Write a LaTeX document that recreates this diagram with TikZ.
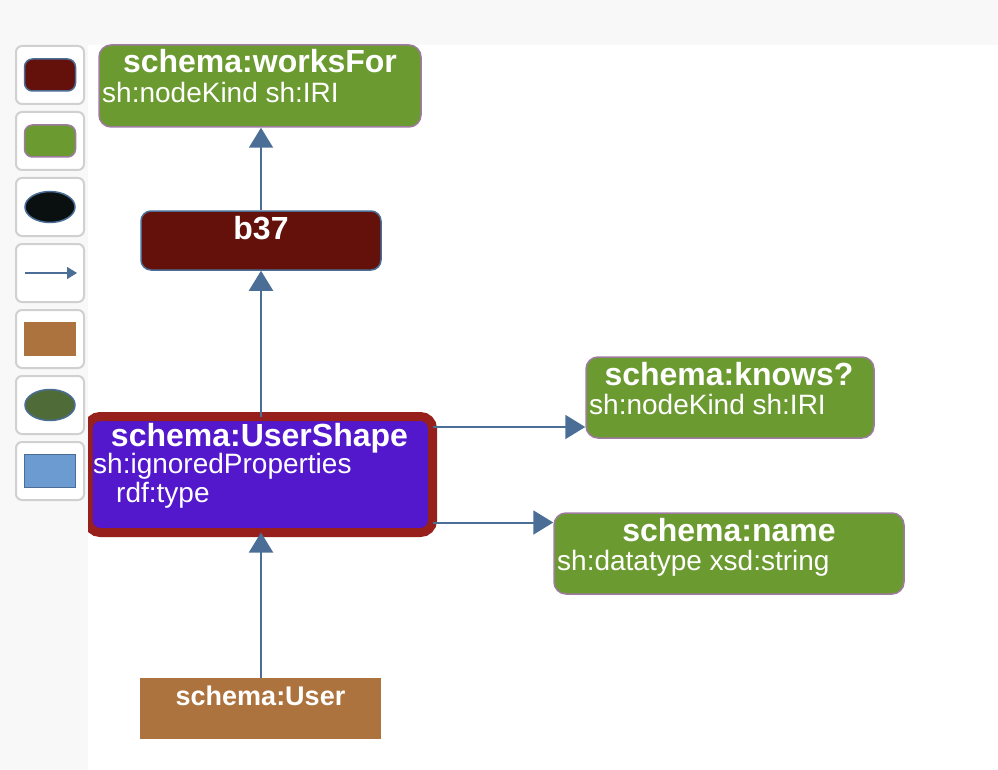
\documentclass[tikz,border=0pt]{standalone}
\usepackage{fontspec}
\setmainfont{Liberation Sans}
\usetikzlibrary{arrows.meta,shapes.geometric}
\definecolor{canvasgray}{HTML}{F8F8F8}
\definecolor{propgreen}{HTML}{6B9A30}
\definecolor{propborder}{HTML}{9E7BA0}
\definecolor{bnodered}{HTML}{64110B}
\definecolor{edgeblue}{HTML}{4A6E96}
\definecolor{shapered}{HTML}{971F1C}
\definecolor{shapeviolet}{HTML}{5317CC}
\definecolor{classbrown}{HTML}{AD733E}
\definecolor{litgreen}{HTML}{4F6B38}
\definecolor{litblue}{HTML}{6B9BD0}
\definecolor{legline}{HTML}{D0D0D0}
\definecolor{iriblack}{HTML}{0A0F10}

\begin{document}
\begin{tikzpicture}[x=1pt,y=-1pt,
		box/.style={rectangle,inner sep=0pt},
		prop/.style={box,rounded corners=12pt,fill=propgreen,draw=propborder,line width=1.5pt},
		ttl/.style={anchor=base,text=white,inner sep=0pt,font=\fontsize{32}{32}\selectfont\bfseries},
		txt/.style={anchor=base west,text=white,inner sep=0pt,font=\fontsize{28}{29}\selectfont},
		conn/.style={draw=edgeblue,line width=2pt,-{Triangle[length=20pt,width=24pt]}},
		legbox/.style={box,minimum width=68pt,minimum height=58pt,rounded corners=6pt,fill=white,draw=legline,line width=2pt}]
		\useasboundingbox (0,0) rectangle (998,770);
		\fill[canvasgray] (0,0) rectangle (998,45);

		\node[prop,minimum width=322pt,minimum height=82pt] (worksfor) at (260,86) {};
		\node[ttl] (worksfor-t) at (260,73) {schema:worksFor};
		\node[txt] (worksfor-l) at (102,103) {sh:nodeKind sh:IRI};

		\node[box,rounded corners=10pt,fill=bnodered,draw=edgeblue,line width=1.5pt,minimum width=240pt,minimum height=59pt] (b37) at (261,240.5) {};
		\node[ttl] (b37-t) at (261,239) {b37};

		\node[box,rounded corners=12pt,fill=shapeviolet,draw=shapered,line width=9pt,outer sep=0pt,minimum width=344.5pt,minimum height=116pt] (usershape) at (260.25,474.5) {};
		\node[ttl] (usershape-t) at (259.5,446) {schema:UserShape};
		\node[txt] (usershape-l1) at (93,473) {sh:ignoredProperties};
		\node[txt] (usershape-l2) at (116,502) {rdf:type};

		\node[prop,minimum width=288pt,minimum height=81pt] (knows) at (730,397.5) {};
		\node[ttl] (knows-t) at (729,385) {schema:knows?};
		\node[txt] (knows-l) at (589,414) {sh:nodeKind sh:IRI};

		\node[prop,minimum width=350pt,minimum height=81pt] (name) at (729,553.5) {};
		\node[ttl] (name-t) at (729,541) {schema:name};
		\node[txt] (name-l) at (557,570) {sh:datatype xsd:string};

		\node[box,fill=classbrown,minimum width=241pt,minimum height=61pt] (user) at (260.5,708.5) {};
		\node[ttl,font=\fontsize{27}{27}\selectfont\bfseries] (user-t) at (260.5,705) {schema:User};

		\coordinate (k0) at ([yshift=-10.5pt]usershape.north east);
		\coordinate (n0) at ([yshift=10pt]usershape.south east);
		\draw[conn] (b37.north) -- (b37.north |- worksfor.south);
		\draw[conn] (b37.south |- usershape.north) -- (b37.south);
		\draw[conn] (b37.south |- user.north) -- (b37.south |- usershape.south);
		\draw[conn] (k0) -- (k0 -| knows.west);
		\draw[conn] (n0) -- (n0 -| name.west);

		% legend
		\fill[canvasgray] (0,45) rectangle (88,770);
		\node[legbox] (leg1) at (50,75) {};
		\node[box,rounded corners=8pt,fill=bnodered,draw=edgeblue,line width=1.5pt,minimum width=51pt,minimum height=32pt] (leg1-s) at (leg1) {};
		\node[legbox] (leg2) at (50,141) {};
		\node[box,rounded corners=8pt,fill=propgreen,draw=propborder,line width=1.5pt,minimum width=51pt,minimum height=32pt] (leg2-s) at (leg2) {};
		\node[legbox] (leg3) at (50,207) {};
		\node[ellipse,inner sep=0pt,fill=iriblack,draw=edgeblue,line width=1.5pt,minimum width=50pt,minimum height=31pt] (leg3-s) at (leg3) {};
		\node[legbox] (leg4) at (50,273) {};
		\coordinate (leg4-a) at ([xshift=-25pt]leg4.center);
		\coordinate (leg4-b) at ([xshift=27pt]leg4.center);
		\draw[draw=edgeblue,line width=1.5pt,-{Triangle[length=10pt,width=12pt]}] (leg4-a) -- (leg4-b);
		\node[legbox] (leg5) at (50,339) {};
		\node[box,fill=classbrown,minimum width=52pt,minimum height=34pt] (leg5-s) at (leg5) {};
		\node[legbox] (leg6) at (50,405) {};
		\node[ellipse,inner sep=0pt,fill=litgreen,draw=edgeblue,line width=1.5pt,minimum width=50pt,minimum height=31pt] (leg6-s) at (leg6) {};
		\node[legbox] (leg7) at (50,471) {};
		\node[box,fill=litblue,draw=edgeblue,line width=1.5pt,minimum width=51pt,minimum height=33pt] (leg7-s) at (leg7) {};
	\end{tikzpicture}
\end{document}
